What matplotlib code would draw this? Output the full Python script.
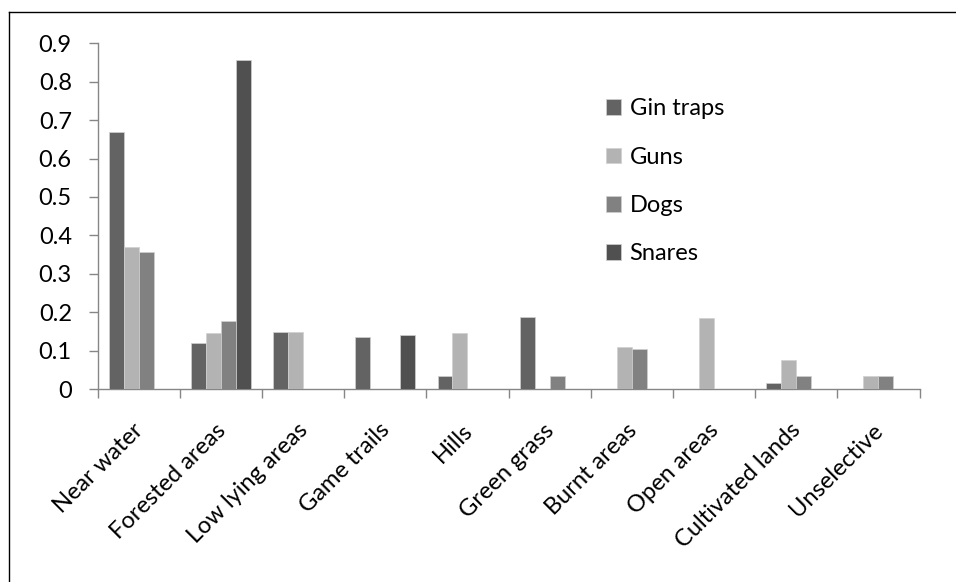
import matplotlib

matplotlib.use("Agg")
import matplotlib.pyplot as plt
import matplotlib.transforms as mtransforms
import numpy as np

FS = 17

plt.rcParams.update(
    {
        "font.family": ["Lato", "DejaVu Sans"],
        "font.size": FS,
        "figure.facecolor": "white",
    }
)

categories = [
    "Near water",
    "Forested areas",
    "Low lying areas",
    "Game trails",
    "Hills",
    "Green grass",
    "Burnt areas",
    "Open areas",
    "Cultivated lands",
    "Unselective",
]
series = ["Gin traps", "Guns", "Dogs", "Snares"]

gin_traps = [0.67, 0.12, 0.148, 0.136, 0.033, 0.188, 0.0, 0.0, 0.016, 0.0]
guns = [0.37, 0.147, 0.148, 0.0, 0.147, 0.0, 0.11, 0.184, 0.075, 0.035]
dogs = [0.357, 0.177, 0.0, 0.0, 0.0, 0.034, 0.104, 0.0, 0.035, 0.035]
snares = [0.0, 0.858, 0.0, 0.14, 0.0, 0.0, 0.0, 0.0, 0.0, 0.0]

colors = ["#636363", "#b3b3b3", "#818181", "#505050"]
AXIS = "#868686"

W, H = 956, 582
fig = plt.figure(figsize=(W / 100, H / 100), dpi=100)
ax = fig.add_axes([97.5 / W, 1 - 389.0 / H, (919.5 - 97.5) / W, (389.0 - 43.4) / H])

x = np.arange(len(categories))
width = 1 / 5.5  # four bars plus a 150 % gap per category
for i, (name, vals, c) in enumerate(zip(series, [gin_traps, guns, dogs, snares], colors)):
    ax.bar(
        x + (i - 1.5) * width,
        vals,
        width,
        color=c,
        edgecolor="#d0d0d0",
        linewidth=0.5,
        label=name,
        zorder=3,
    )

ax.set_xlim(-0.5, len(categories) - 0.5)
ax.set_ylim(0, 0.9)
ax.set_yticks(np.arange(0, 0.91, 0.1))
ax.set_yticklabels(["0"] + [f"{v:.1f}" for v in np.arange(0.1, 0.91, 0.1)])

for s in ("top", "right"):
    ax.spines[s].set_visible(False)
for s in ("left", "bottom"):
    ax.spines[s].set_color(AXIS)
    ax.spines[s].set_linewidth(1.0)

ax.tick_params(axis="y", direction="out", length=6.5, width=1, color=AXIS, pad=12, labelsize=FS)

# category labels sit between the boundary tick marks
ax.set_xticks(x)
ax.set_xticklabels(categories, rotation=45, ha="right", rotation_mode="anchor")
ax.tick_params(axis="x", which="major", length=0, pad=22, labelsize=FS)
ax.set_xticks(np.arange(-0.5, len(categories)), minor=True)
ax.tick_params(axis="x", which="minor", direction="out", length=6.5, width=1, color=AXIS)
shift = mtransforms.ScaledTranslation(-6 / 100, 0, fig.dpi_scale_trans)
for lbl in ax.get_xticklabels():
    lbl.set_transform(lbl.get_transform() + shift)

ax.legend(
    loc="upper left",
    bbox_to_anchor=(585 / W, 1 - 77 / H),
    bbox_transform=fig.transFigure,
    frameon=False,
    handlelength=0.64,
    handleheight=0.64,
    handletextpad=0.35,
    labelspacing=1.16,
    fontsize=FS,
)

# chart frame (top and left edges fall inside the image)
fig.add_artist(plt.Line2D([9 / W, 9 / W], [0, 1 - 12 / H], color="#000000", lw=1.0, transform=fig.transFigure))
fig.add_artist(plt.Line2D([9 / W, 1], [1 - 12 / H, 1 - 12 / H], color="#000000", lw=1.0, transform=fig.transFigure))

fig.savefig("out.png", dpi=100)
